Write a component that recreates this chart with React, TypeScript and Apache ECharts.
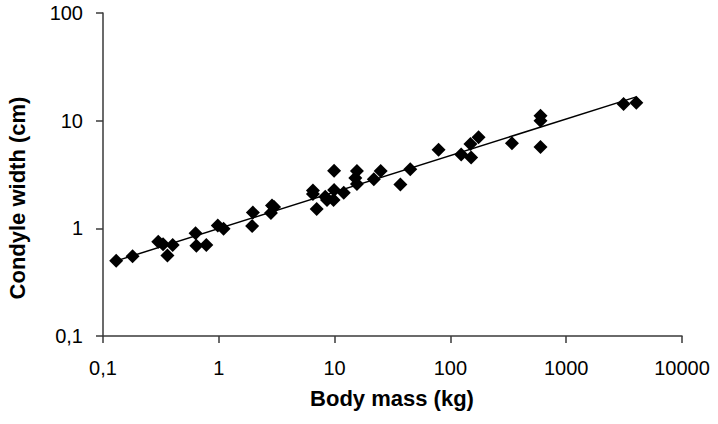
import React, { useEffect, useRef } from "react";
import * as echarts from "echarts";

const bodyMassKg = [
  0.13, 0.18, 0.3, 0.33, 0.36, 0.4, 0.63, 0.64, 0.78, 0.98, 1.1, 1.97, 1.94, 2.88,
  3.0, 2.82, 6.5, 6.5, 7.0, 8.3, 8.6, 9.9, 9.9, 9.8, 12, 15.6, 15.1, 15.6, 21.8, 25,
  37, 45, 79, 124, 149, 151, 175, 340, 600, 600, 600, 3130, 4030,
];
const condyleWidthCm = [
  0.5, 0.55, 0.75, 0.71, 0.56, 0.7, 0.9, 0.69, 0.7, 1.06, 0.99, 1.4, 1.05, 1.63,
  1.58, 1.39, 2.24, 2.08, 1.51, 1.97, 1.83, 3.43, 2.27, 1.83, 2.14, 3.41, 2.93, 2.58,
  2.85, 3.41, 2.55, 3.54, 5.38, 4.85, 6.07, 4.55, 7.01, 6.17, 11.1, 10.0, 5.7, 14.3,
  14.7,
];
const xTitle = "Body mass (kg)";
const yTitle = "Condyle width (cm)";

function fmt(v: number): string {
  return String(v).replace(".", ",");
}

export default function App() {
  const ref = useRef<HTMLDivElement>(null);
  useEffect(() => {
    if (!ref.current) return;
    const chart = echarts.init(ref.current, undefined, { renderer: "svg" });
    const points = bodyMassKg.map((x, i) => [x, condyleWidthCm[i]]);
    // power trend line (least squares on log-log)
    const lx = bodyMassKg.map((v) => Math.log10(v));
    const ly = condyleWidthCm.map((v) => Math.log10(v));
    const n = lx.length;
    const mx = lx.reduce((a, b) => a + b, 0) / n;
    const my = ly.reduce((a, b) => a + b, 0) / n;
    let sxy = 0;
    let sxx = 0;
    for (let i = 0; i < n; i++) {
      sxy += (lx[i] - mx) * (ly[i] - my);
      sxx += (lx[i] - mx) * (lx[i] - mx);
    }
    const b = sxy / sxx;
    const a = my - b * mx;
    const xmin = Math.min(...bodyMassKg);
    const xmax = Math.max(...bodyMassKg);
    const trend = [
      [xmin, Math.pow(10, a + b * Math.log10(xmin))],
      [xmax, Math.pow(10, a + b * Math.log10(xmax))],
    ];
    const font = "Liberation Sans, Arial, sans-serif";
    const axisColor = "#3a3a3a";
    chart.setOption({
      animation: false,
      backgroundColor: "#ffffff",
      grid: { left: 103, right: 36, top: 13, bottom: 88, containLabel: false, outerBoundsMode: "none" },
      xAxis: {
        type: "log",
        logBase: 10,
        min: 0.1,
        max: 10000,
        splitLine: { show: false },
        axisLine: { show: true, onZero: false, lineStyle: { color: axisColor, width: 1.5 } },
        axisTick: { show: true, length: 7, lineStyle: { color: axisColor, width: 1.5 } },
        minorTick: { show: false },
        axisLabel: { fontFamily: font, fontSize: 20, color: "#000", margin: 22, formatter: (v: number) => fmt(v) },
      },
      yAxis: {
        type: "log",
        logBase: 10,
        min: 0.1,
        max: 100,
        splitLine: { show: false },
        axisLine: { show: true, onZero: false, lineStyle: { color: axisColor, width: 1.5 } },
        axisTick: { show: true, length: 7, lineStyle: { color: axisColor, width: 1.5 } },
        axisLabel: { fontFamily: font, fontSize: 20, color: "#000", margin: 20, formatter: (v: number) => fmt(v) },
      },
      graphic: [
        {
          type: "text",
          x: 392,
          y: 398,
          style: {
            text: xTitle,
            font: `bold 22px ${font}`,
            fill: "#000",
            align: "center",
            verticalAlign: "middle",
          },
        },
        {
          type: "text",
          x: 17,
          y: 198,
          rotation: Math.PI / 2,
          style: {
            text: yTitle,
            font: `bold 22px ${font}`,
            fill: "#000",
            align: "center",
            verticalAlign: "middle",
          },
        },
      ],
      series: [
        {
          type: "line",
          data: trend,
          symbol: "none",
          lineStyle: { color: "#000", width: 1.5 },
          z: 1,
        },
        {
          type: "scatter",
          data: points,
          symbol: "diamond",
          symbolSize: 14,
          itemStyle: { color: "#000", opacity: 1 },
          z: 2,
        },
      ],
    });
    return () => chart.dispose();
  }, []);
  return (
    <div
      ref={ref}
      style={{ position: "fixed", left: 0, top: 0, width: 718, height: 424, background: "#fff" }}
    />
  );
}
